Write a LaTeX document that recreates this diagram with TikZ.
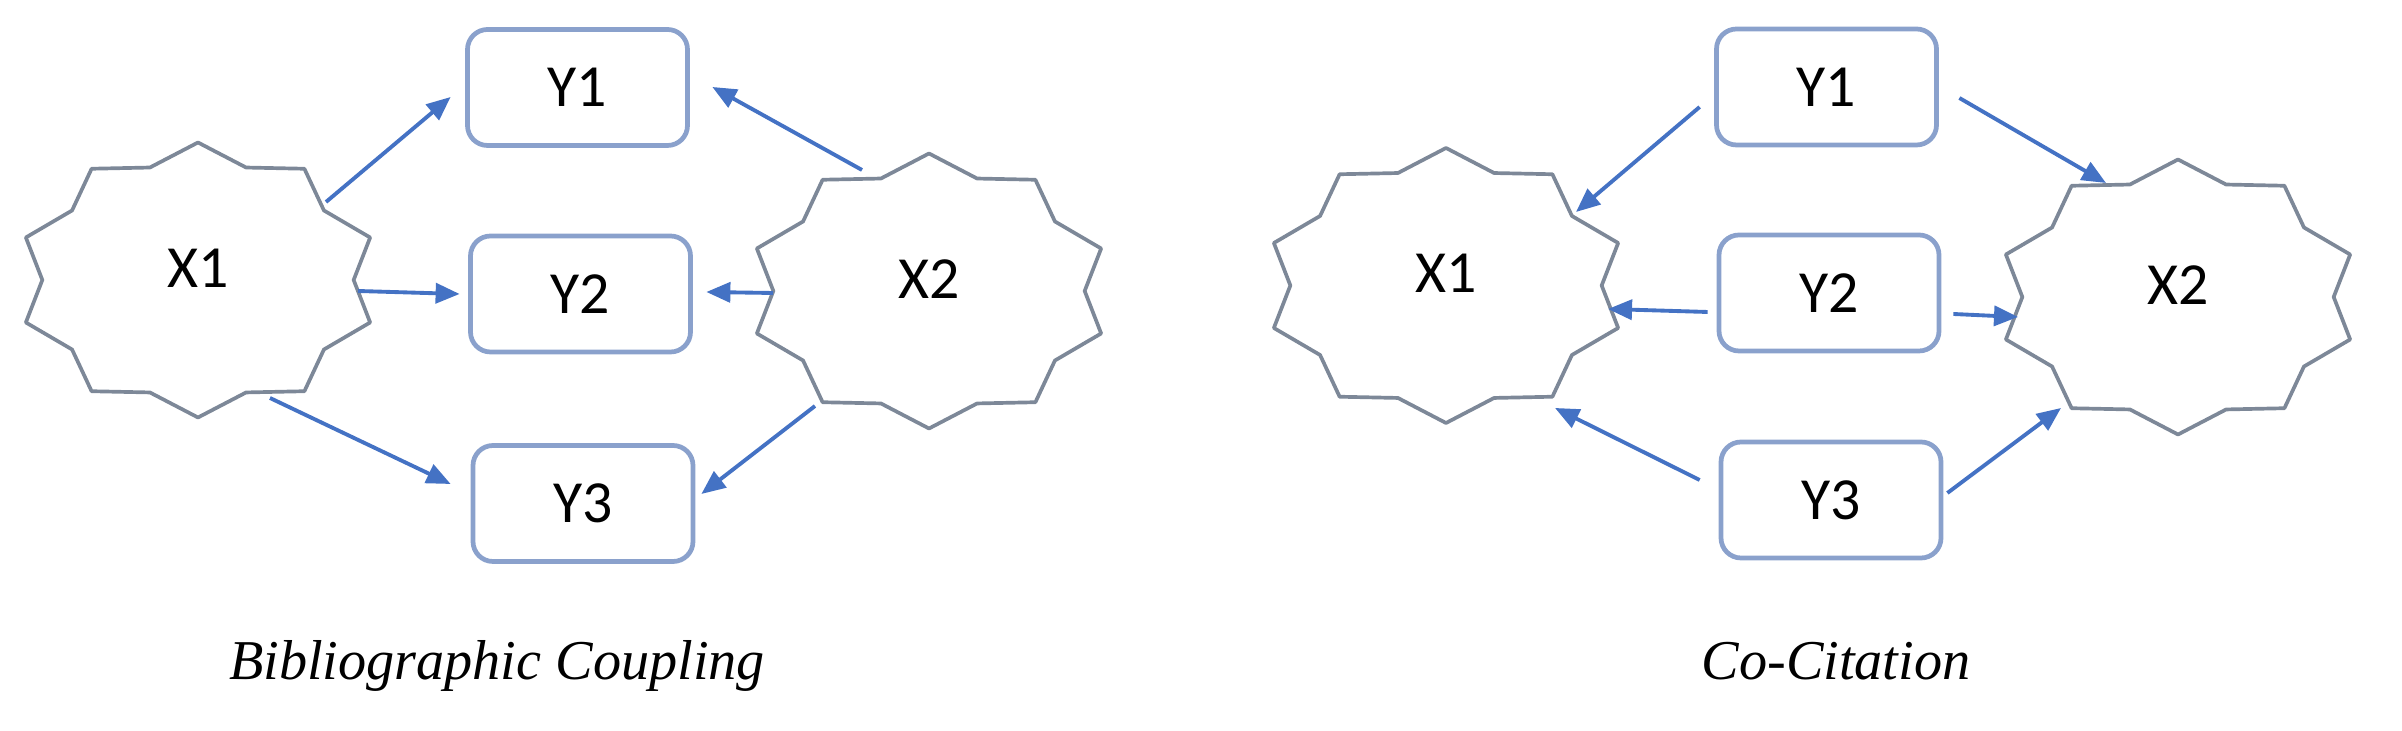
\documentclass[tikz,border=0pt]{standalone}
\usepackage{fontspec}
\setmainfont{Liberation Serif}
\newfontfamily\labfont{Carlito}
\usetikzlibrary{calc,arrows.meta,shapes.geometric}
\definecolor{stargray}{RGB}{125,136,152}
\definecolor{boxblue}{RGB}{138,161,204}
\definecolor{arrblue}{RGB}{68,114,196}
\tikzset{
  ybox/.style={draw=boxblue, line width=1.35pt, rounded corners=0.2cm, minimum width=2.2cm, minimum height=1.16cm, inner sep=0pt, font=\labfont\fontsize{17}{20}\selectfont},
  starcenter/.style={ellipse, draw=none, minimum width=3.4cm, minimum height=2.6cm, inner sep=0pt},
  starlabel/.style={font=\labfont\fontsize{17}{20}\selectfont, inner sep=0pt},
  starline/.style={draw=stargray, line width=1.05pt, line join=round},
  arr/.style={draw=arrblue, line width=1.1pt, -{Triangle[length=0.24cm,width=0.2cm]}},
  caption/.style={font=\itshape\fontsize{16}{19}\selectfont, anchor=base, inner sep=0pt}
}
\newcommand{\sealshape}[1]{%
  \begin{scope}[shift={(#1.center)}, x=1.81cm, y=1.375cm]
    \draw[starline] (90:1) -- (108:0.86) -- (126:1) -- (144:0.86) -- (162:1) -- (180:0.86)
      -- (198:1) -- (216:0.86) -- (234:1) -- (252:0.86) -- (270:1) -- (288:0.86)
      -- (306:1) -- (324:0.86) -- (342:1) -- (0:0.86) -- (18:1) -- (36:0.86)
      -- (54:1) -- (72:0.86) -- cycle;
  \end{scope}}
\begin{document}
\begin{tikzpicture}
\useasboundingbox (0,0) rectangle (24.02,7.31);
% ---------- Bibliographic Coupling ----------
\node[starcenter] (lx1) at (1.98,4.51) {};
\node[starcenter] (lx2) at (9.29,4.40) {};
\sealshape{lx1}
\sealshape{lx2}
\node[starlabel] (lx1t) at ($(lx1)+(0,0.12)$) {X1};
\node[starlabel] (lx2t) at ($(lx2)+(0,0.12)$) {X2};
\node[ybox] (ly1) at (5.775,6.435) {Y1};
\node[ybox] (ly2) at (5.805,4.37) {Y2};
\node[ybox] (ly3) at (5.83,2.275) {Y3};
\draw[arr] ($(lx1)+(1.28,0.78)$) -- ($(ly1.west)+(-0.145,-0.095)$);
\draw[arr] ($(lx1)+(1.60,-0.11)$) -- ($(ly2.west)+(-0.085,0)$);
\draw[arr] ($(lx1)+(0.72,-1.18)$) -- ($(ly3.west)+(-0.20,0.195)$);
\draw[arr] ($(lx2)+(-0.67,1.21)$) -- ($(ly1.east)+(0.225,0.005)$);
\draw[arr] ($(lx2)+(-1.56,-0.02)$) -- ($(ly2.east)+(0.135,0.02)$);
\draw[arr] ($(lx2)+(-1.14,-1.15)$) -- ($(ly3.east)+(0.06,0.095)$);
\node[caption] (lcap) at (4.97,0.51) {Bibliographic Coupling};
% ---------- Co-Citation ----------
\node[starcenter] (rx1) at (14.46,4.455) {};
\node[starcenter] (rx2) at (21.78,4.34) {};
\sealshape{rx1}
\sealshape{rx2}
\node[starlabel] (rx1t) at ($(rx1)+(0,0.12)$) {X1};
\node[starlabel] (rx2t) at ($(rx2)+(0,0.12)$) {X2};
\node[ybox] (ry1) at (18.265,6.44) {Y1};
\node[ybox] (ry2) at (18.29,4.38) {Y2};
\node[ybox] (ry3) at (18.31,2.31) {Y3};
\draw[arr] ($(ry1.west)+(-0.145,-0.20)$) -- ($(rx1)+(1.30,0.735)$);
\draw[arr] ($(ry1.east)+(0.205,-0.11)$) -- ($(rx2)+(-0.72,1.14)$);
\draw[arr] ($(ry2.west)+(-0.09,-0.19)$) -- ($(rx1)+(1.62,-0.235)$);
\draw[arr] ($(ry2.east)+(0.12,-0.21)$) -- ($(rx2)+(-1.60,-0.20)$);
\draw[arr] ($(ry3.west)+(-0.19,0.20)$) -- ($(rx1)+(1.09,-1.225)$);
\draw[arr] ($(ry3.east)+(0.04,0.07)$) -- ($(rx2)+(-1.17,-1.11)$);
\node[caption] (rcap) at (18.36,0.51) {Co-Citation};
\end{tikzpicture}
\end{document}
